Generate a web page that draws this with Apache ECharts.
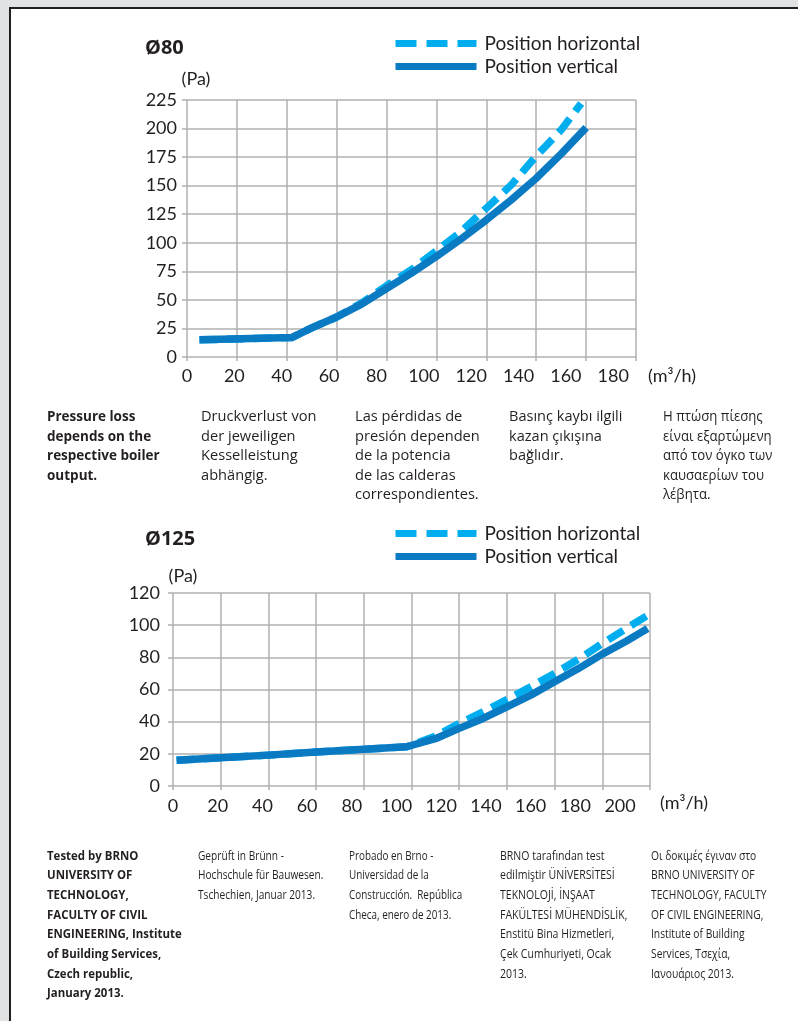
<!DOCTYPE html>
<html><head><meta charset="utf-8">
<script src="https://cdn.jsdelivr.net/npm/echarts@6/dist/echarts.min.js"></script>
<style>
html,body{margin:0;padding:0;width:798px;height:1021px;overflow:hidden;background:#e1e2e4;}
#panel{position:absolute;left:9px;top:7px;right:0;bottom:0;background:#fff;border-left:2px solid #1f1f1f;border-top:2px solid #1f1f1f;}
#chart{position:absolute;left:0;top:0;width:798px;height:1021px;}
</style></head><body><div id="panel"></div><div id="chart"></div>
<script>
// ---- data: chart Ø80 ----
const xTicks80 = [0, 20, 40, 60, 80, 100, 120, 140, 160, 180];
const yTicks80 = [0, 25, 50, 75, 100, 125, 150, 175, 200, 225];
const flow80V = [5, 42, 50, 60, 70, 80, 90, 100, 110, 120, 130, 140, 150, 160];
const pa80V   = [15, 17, 25.5, 35, 46.3, 60, 73.4, 88, 103.5, 120, 137.6, 156.5, 177.8, 200.8];
const flow80H = [5, 42, 50, 60, 70, 80, 90, 100, 110, 120, 130, 140, 150, 158];
const pa80H   = [15, 17, 25.5, 35, 47.2, 62.4, 76.4, 93, 110, 130.3, 150.7, 176, 198.8, 222];
// ---- data: chart Ø125 ----
const xTicks125 = [0, 20, 40, 60, 80, 100, 120, 140, 160, 180, 200];
const yTicks125 = [0, 20, 40, 60, 80, 100, 120];
const flow125V = [1.5, 20, 40, 60, 80, 98, 110, 120, 130, 140, 150, 160, 170, 180, 190, 199];
const pa125V   = [16, 17.6, 19.2, 21.1, 22.8, 24.4, 29.4, 35.8, 42, 49.2, 56.5, 64.8, 73, 82, 90, 97.9];
const flow125H = [1.5, 20, 40, 60, 80, 98, 110, 120, 130, 140, 150, 160, 170, 180, 190, 200];
const pa125H   = [16, 17.6, 19.2, 21.1, 22.8, 24.4, 31, 38.9, 46.1, 53.8, 61.7, 70, 78.8, 88.6, 97.9, 107];
// ---- texts ----
const seriesNames = ['Position horizontal', 'Position vertical'];
const titles = ['Ø80', 'Ø125'];
const yName = '(Pa)';
const xName = '(m³/h)';
const topTexts = [
  'Pressure loss\ndepends on the\nrespective boiler\noutput.',
  'Druckverlust von\nder jeweiligen\nKesselleistung\nabhängig.',
  'Las pérdidas de\npresión dependen\nde la potencia\nde las calderas\ncorrespondientes.',
  'Basınç kaybı ilgili\nkazan çıkışına\nbağlıdır.',
  'Η πτώση πίεσης\nείναι εξαρτώμενη\nαπό τον όγκο των\nκαυσαερίων του\nλέβητα.'
];
const bottomTexts = [
  'Tested by BRNO\nUNIVERSITY OF\nTECHNOLOGY,\nFACULTY OF CIVIL\nENGINEERING, Institute\nof Building Services,\nCzech republic,\nJanuary 2013.',
  'Geprüft in Brünn -\nHochschule für Bauwesen.\nTschechien, Januar 2013.',
  'Probado en Brno -\nUniversidad de la\nConstrucción.  República\nCheca, enero de 2013.',
  'BRNO tarafından test\nedilmiştir ÜNİVERSİTESİ\nTEKNOLOJİ, İNŞAAT\nFAKÜLTESİ MÜHENDİSLİK,\nEnstitü Bina Hizmetleri,\nÇek Cumhuriyeti, Ocak\n2013.',
  'Οι δοκιμές έγιναν στο\nBRNO UNIVERSITY OF\nTECHNOLOGY, FACULTY\nOF CIVIL ENGINEERING,\nInstitute of Building\nServices, Τσεχία,\nΙανουάριος 2013.'
];

const zip = (xs, ys) => xs.map((x, i) => [x, ys[i]]);
const gridColor = '#b0b0b0';
const textColor = '#231f20';
const axisFont = 'Lato';
const colH = '#00aeef';
const colV = '#0a7bc3';
const dashPattern = [18, 9];
const legendDash = [21, 10];

function valueAxisY(gridIndex, ticks, margin, nameGap, namePadLeft) {
  return {
    type: 'value', gridIndex, min: ticks[0], max: ticks[ticks.length - 1], interval: ticks[1] - ticks[0],
    axisLine: { show: false },
    axisTick: { show: true, length: 5, lineStyle: { color: gridColor, width: 1.5 } },
    splitLine: { show: true, lineStyle: { color: gridColor, width: 1.5 } },
    axisLabel: { margin, fontSize: 18, color: textColor, fontFamily: axisFont },
    name: yName, nameLocation: 'end', nameGap, nameMoveOverlap: false,
    nameTextStyle: { fontSize: 18, color: textColor, fontFamily: axisFont, align: 'center', verticalAlign: 'bottom', padding: [0, 0, 0, namePadLeft] }
  };
}
function gridAxisX(gridIndex, ticks) {
  return {
    type: 'value', gridIndex, position: 'bottom', min: ticks[0], max: ticks[ticks.length - 1], interval: ticks[1] - ticks[0],
    axisLine: { show: false },
    axisTick: { show: true, length: 4, lineStyle: { color: gridColor, width: 1.5 } },
    splitLine: { show: true, lineStyle: { color: gridColor, width: 1.5 } },
    axisLabel: { show: false }
  };
}
function labelAxisX(gridIndex, ticks, labelMax, margin, nameGap, nameShift) {
  return {
    type: 'value', gridIndex, position: 'bottom', min: ticks[0], max: labelMax, interval: ticks[1] - ticks[0],
    axisLine: { show: false }, axisTick: { show: false }, splitLine: { show: false },
    axisLabel: { margin, fontSize: 18, color: textColor, fontFamily: axisFont,
      showMinLabel: true, showMaxLabel: true,
      formatter: v => (ticks.indexOf(v) >= 0 ? String(v) : '') },
    name: '\n' + xName, nameLocation: 'end', nameGap, nameMoveOverlap: false,
    nameTextStyle: { fontSize: 18, color: textColor, fontFamily: axisFont, align: 'left', verticalAlign: 'middle', lineHeight: nameShift * 2 }
  };
}
function lineSeries(name, data, xi, yi, color, dashed) {
  return {
    type: 'line', name, data, xAxisIndex: xi, yAxisIndex: yi, symbol: 'none', clip: false,
    lineStyle: { color, width: 7.5, type: dashed ? dashPattern : 'solid', cap: 'butt', join: 'round' },
    itemStyle: { color },
    emphasis: { disabled: true }, animation: false
  };
}
function legend(top) {
  return {
    orient: 'vertical', left: 392, top, padding: 0, itemWidth: 81, itemHeight: 20, itemGap: 4,
    selectedMode: false,
    data: [
      { name: seriesNames[0], lineStyle: { width: 7, type: legendDash, color: colH } },
      { name: seriesNames[1], lineStyle: { width: 7, type: 'solid', color: colV } }
    ],
    lineStyle: { width: 7 },
    itemStyle: { opacity: 0, borderWidth: 0 },
    textStyle: { fontSize: 19, color: textColor, fontFamily: axisFont, padding: [0, 0, 0, 3] }
  };
}
function paragraphs(texts, xs, top, fonts, lineHeight, scales) {
  return texts.map((t, i) => ({
    type: 'text', x: xs[i], y: top, scaleX: scales[i], originX: 0,
    style: { text: t, font: fonts[i], fill: textColor, lineHeight, verticalAlign: 'top', align: 'left' }
  }));
}

const chart = echarts.init(document.getElementById('chart'), null, { renderer: 'canvas' });
const topFonts = ['bold 15px "Open Sans"', '15px "Open Sans"', '15px "Open Sans"', '15px "Open Sans"', '15px "Open Sans"'];
const botFonts = ['bold 13px "Open Sans"', '13px "Open Sans"', '13px "Open Sans"', '13px "Open Sans"', '13px "Open Sans"'];
const option = {
  animation: false,
  title: [
    { text: titles[0], left: 145, top: 38, padding: 0, textStyle: { fontSize: 20, fontWeight: 'bold', color: textColor, fontFamily: 'Open Sans' } },
    { text: titles[1], left: 145, top: 529, padding: 0, textStyle: { fontSize: 20, fontWeight: 'bold', color: textColor, fontFamily: 'Open Sans' } }
  ],
  legend: [legend(34), legend(524)],
  grid: [
    { left: 187, top: 100, width: 449, height: 257, outerBoundsMode: 'none', containLabel: false },
    { left: 173, top: 593, width: 477, height: 193, outerBoundsMode: 'none', containLabel: false }
  ],
  xAxis: [
    gridAxisX(0, xTicks80),
    labelAxisX(0, xTicks80, 189.6, 10, 12, 19),
    gridAxisX(1, xTicks125),
    labelAxisX(1, xTicks125, 213.4, 11, 10, 17)
  ],
  yAxis: [
    valueAxisY(0, yTicks80, 10, 12, 18),
    valueAxisY(1, yTicks125, 13, 8, 20)
  ],
  series: [
    lineSeries(seriesNames[0], zip(flow80H, pa80H), 0, 0, colH, true),
    lineSeries(seriesNames[1], zip(flow80V, pa80V), 0, 0, colV, false),
    lineSeries(seriesNames[0], zip(flow125H, pa125H), 2, 1, colH, true),
    lineSeries(seriesNames[1], zip(flow125V, pa125V), 2, 1, colV, false)
  ],
  graphic: { elements: [].concat(
    paragraphs(topTexts, [47, 201, 355, 509, 663], 407, topFonts, 19.5, [0.9, 0.975, 0.975, 0.97, 0.88]),
    paragraphs(bottomTexts, [47, 198, 349, 500, 651], 846, botFonts, 19.7, [0.88, 0.78, 0.76, 0.81, 0.79])
  ) }
};
chart.setOption(option);
</script></body></html>
